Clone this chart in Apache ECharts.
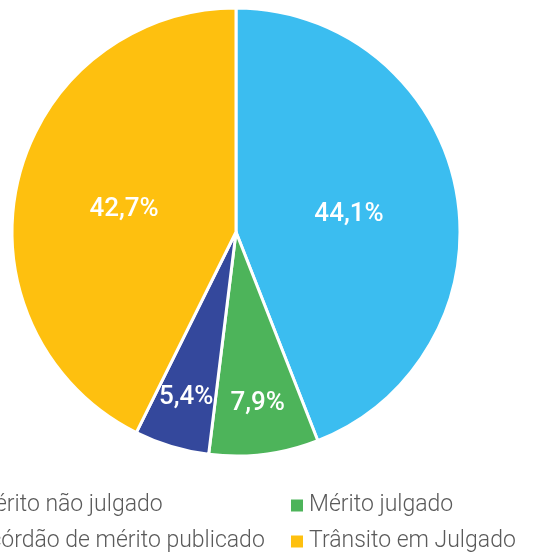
<!DOCTYPE html>
<html>
<head>
<meta charset="utf-8">
<script src="https://cdn.jsdelivr.net/npm/echarts@6/dist/echarts.min.js"></script>
<style>
  html, body { margin: 0; padding: 0; background: #fff; }
  #main { width: 533px; height: 557px; }
</style>
</head>
<body>
<div id="main"></div>
<script>
// dados do gráfico
var categorias = ['Mérito não julgado', 'Mérito julgado', 'Acórdão de mérito publicado', 'Trânsito em Julgado'];
var valores = [44.1, 7.9, 5.4, 42.7];
var cores = ['#3bbdf0', '#4db45a', '#34489c', '#fec00f'];

var chart = echarts.init(document.getElementById('main'));

var total = valores.reduce(function (a, b) { return a + b; }, 0);
var raio = 224;

// desloca para fora os rótulos das fatias pequenas
function deslocamento(idx) {
  var acum = 0;
  for (var i = 0; i < idx; i++) acum += valores[i];
  var meio = (acum + valores[idx] / 2) / total * Math.PI * 2;
  var grande = valores[idx] > 20;
  var d = grande ? 0 : raio * 0.26;
  return { dx: Math.sin(meio) * d, dy: -Math.cos(meio) * d + (grande ? 4 : 0) };
}

var legendaTexto = {
  fontSize: 23,
  color: '#5a5a5a',
  fontFamily: 'Roboto',
  fontWeight: 300
};

var option = {
  color: cores,
  animation: false,
  legend: [{
    data: [categorias[0], categorias[2]],
    orient: 'vertical',
    left: -45,
    top: 494,
    height: 62,
    padding: 0,
    icon: 'rect',
    itemWidth: 14,
    itemHeight: 14,
    itemGap: 13,
    textStyle: legendaTexto
  }, {
    data: [categorias[1], categorias[3]],
    orient: 'vertical',
    left: 289,
    top: 494,
    height: 62,
    padding: 0,
    icon: 'rect',
    itemWidth: 14,
    itemHeight: 14,
    itemGap: 13,
    textStyle: legendaTexto
  }],
  series: [{
    type: 'pie',
    center: [236, 232],
    radius: raio,
    startAngle: 90,
    clockwise: true,
    itemStyle: {
      borderColor: '#fff',
      borderWidth: 3
    },
    label: {
      show: true,
      position: 'inside',
      color: '#fff',
      fontSize: 26,
      fontWeight: 500,
      fontFamily: 'Roboto',
      formatter: function (p) {
        return p.value.toFixed(1).replace('.', ',') + '%';
      }
    },
    labelLine: { show: false },
    labelLayout: function (p) {
      return deslocamento(p.dataIndex);
    },
    data: categorias.map(function (n, i) {
      return { name: n, value: valores[i] };
    })
  }]
};

chart.setOption(option);
</script>
</body>
</html>
